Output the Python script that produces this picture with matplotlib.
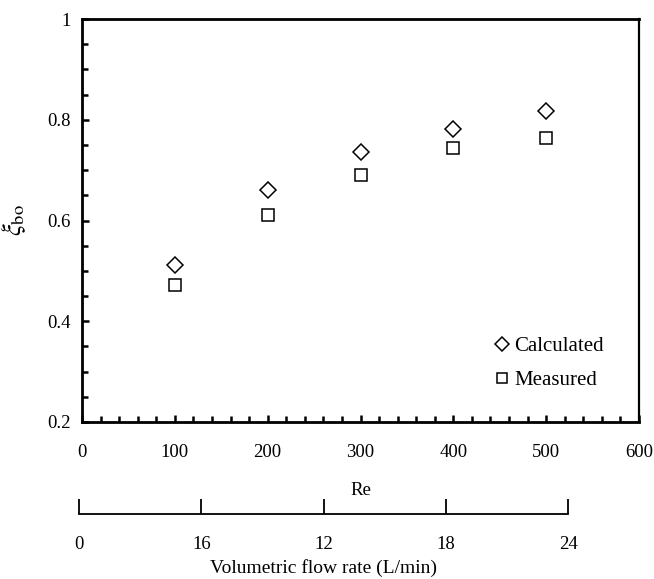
import matplotlib.pyplot as plt
import numpy as np

plt.rcParams["font.family"] = "Liberation Serif"
plt.rcParams["mathtext.fontset"] = "stix"

re_vals = [100, 200, 300, 400, 500]
calculated = [0.512, 0.660, 0.736, 0.781, 0.817]
measured = [0.472, 0.611, 0.690, 0.744, 0.763]

flow_ticks = [0, 6, 12, 18, 24]
flow_labels = ["0", "16", "12", "18", "24"]

fig = plt.figure(figsize=(6.54, 5.79), dpi=100)
ax = fig.add_axes([82 / 654, 1 - 422 / 579, 557 / 654, 403 / 579])

ax.plot(re_vals, calculated, linestyle="None", marker="D", ms=8, mfc="white",
        mec="black", mew=1.1, label="Calculated")
ax.plot(re_vals, measured, linestyle="None", marker="s", ms=8.5, mfc="white",
        mec="black", mew=1.1, label="Measured")

ax.set_xlim(0, 600)
ax.set_ylim(0.2, 1.0)
ax.set_xticks(np.arange(0, 601, 100))
ax.set_xticks(np.arange(0, 601, 20), minor=True)
ax.set_yticks([0.2, 0.4, 0.6, 0.8, 1.0])
ax.set_yticklabels(["0.2", "0.4", "0.6", "0.8", "1"])
ax.set_yticks(np.arange(0.2, 1.001, 0.05), minor=True)
ax.tick_params(which="both", direction="in", labelsize=13.5, width=1.8)
ax.tick_params(which="major", length=5)
ax.tick_params(which="minor", length=4)
ax.tick_params(axis="x", which="major", pad=16)
ax.tick_params(axis="y", which="major", pad=8)
for s in ["left", "top", "bottom"]:
    ax.spines[s].set_linewidth(2)
ax.spines["right"].set_linewidth(1.6)

ax.set_xlabel("Re", fontsize=13.5, labelpad=15)
ax.set_ylabel(r"$\xi_{\mathrm{bo}}$", fontsize=19, labelpad=14)

leg = ax.legend(loc="lower right", frameon=False, fontsize=15, markerscale=0.85,
                handlelength=0.6, handletextpad=0.3, labelspacing=0.7,
                bbox_to_anchor=(0.971, 0.032))

# secondary scale: volumetric flow rate
ax2 = fig.add_axes([79 / 654, 1 - 514 / 579, 489 / 654, 0.001])
ax2.set_xlim(0, 24)
ax2.set_xticks(flow_ticks)
ax2.set_xticklabels(flow_labels)
ax2.set_yticks([])
for s in ["left", "right", "top"]:
    ax2.spines[s].set_visible(False)
ax2.spines["bottom"].set_linewidth(1.3)
ax2.tick_params(axis="x", direction="in", length=11, width=1.3, labelsize=13.5, pad=16)
ax2.patch.set_visible(False)
ax2.set_xlabel("Volumetric flow rate (L/min)", fontsize=14, labelpad=4)

fig.savefig("out.png", dpi=100)
